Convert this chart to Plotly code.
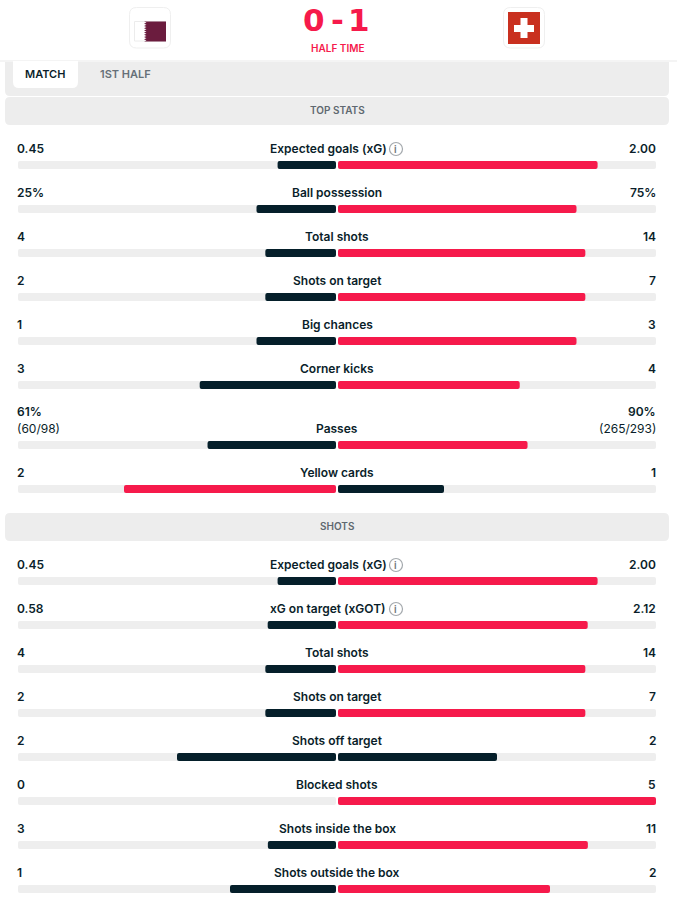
import plotly.graph_objects as go

# Match statistics, one entry per row
stat_names = ["Expected goals (xG)", "Ball possession", "Total shots", "Shots on target",
              "Big chances", "Corner kicks", "Passes", "Yellow cards",
              "Expected goals (xG)", "xG on target (xGOT)", "Total shots", "Shots on target",
              "Shots off target", "Blocked shots", "Shots inside the box", "Shots outside the box"]
home_values = [0.45, 25, 4, 2, 1, 3, 61, 2, 0.45, 0.58, 4, 2, 2, 0, 3, 1]
away_values = [2.00, 75, 14, 7, 3, 4, 90, 1, 2.00, 2.12, 14, 7, 2, 5, 11, 2]
home_labels = ["0.45", "25%", "4", "2", "1", "3", "61%", "2",
               "0.45", "0.58", "4", "2", "2", "0", "3", "1"]
away_labels = ["2.00", "75%", "14", "7", "3", "4", "90%", "1",
               "2.00", "2.12", "14", "7", "2", "5", "11", "2"]
info_rows = ["Expected goals (xG)", "xG on target (xGOT)"]
section_titles = ["TOP STATS", "SHOTS"]
tab_labels = ["MATCH", "1ST HALF"]
score_home = "0"
score_away = "1"
match_status = "HALF TIME"
passes_home_detail = "(60/98)"
passes_away_detail = "(265/293)"

W, H = 677, 903
RED, DARK, TRACK, PANEL = "#F61A4B", "#051F2A", "#EEEEEE", "#EDEDED"
INK, GREY = "#0A1E2A", "#5F6870"
FONT = "Inter"
SCORE_FONT = "DejaVu Sans"

# Row centres, in screen-sized y units
row_y = [165, 209, 253, 297, 341, 385, 445, 489, 581, 625, 669, 713, 757, 801, 845, 889]

SCALE = 318.0  # one full share spans this many pixels
GAP = 1 / SCALE
home_share = [h / (h + a) for h, a in zip(home_values, away_values)]
away_share = [a / (h + a) for h, a in zip(home_values, away_values)]
home_colour = [RED if h > a else DARK for h, a in zip(home_values, away_values)]
away_colour = [RED if a > h else DARK for h, a in zip(home_values, away_values)]

fig = go.Figure()
for side in (-1, 1):
    fig.add_bar(y=row_y, x=[side] * len(row_y), base=side * GAP, orientation="h", width=8,
                marker=dict(color=TRACK, line_width=0), hoverinfo="skip")
fig.add_bar(y=row_y, x=[-s for s in home_share], base=-GAP, orientation="h", width=8,
            marker=dict(color=home_colour, line_width=0), hoverinfo="skip")
fig.add_bar(y=row_y, x=away_share, base=GAP, orientation="h", width=8,
            marker=dict(color=away_colour, line_width=0), hoverinfo="skip")


def rounded(x0, y0, x1, y1, r, top=True, bottom=True):
    tr = r if top else 0
    br = r if bottom else 0
    return (f"M{x0 + tr},{y0} L{x1 - tr},{y0} Q{x1},{y0} {x1},{y0 + tr} "
            f"L{x1},{y1 - br} Q{x1},{y1} {x1 - br},{y1} L{x0 + br},{y1} "
            f"Q{x0},{y1} {x0},{y1 - br} L{x0},{y0 + tr} Q{x0},{y0} {x0 + tr},{y0} Z")


def px_path(d, fill, line=None, layer="below"):
    return dict(type="path", path=d, xref="x", yref="y", fillcolor=fill, layer=layer,
                line=dict(color=line or fill, width=1 if line else 0))


def xd(p):
    return (p - 337) / SCALE


def convert(d):
    # Paths are written in pixels; x is mapped onto the data axis
    out = []
    for t in d.replace("M", " M ").replace("L", " L ").replace("Q", " Q ").replace("Z", " Z ").split():
        if "," in t:
            a, b = t.split(",")
            out.append(f"{xd(float(a)):.5f},{b}")
        else:
            out.append(t)
    return " ".join(out)


def panel(x0, y0, x1, y1, r, fill, line=None, layer="below", **kw):
    return px_path(convert(rounded(x0, y0, x1, y1, r, **kw)), fill, line, layer)


# Serrated hoist edge of the Qatar flag
serration = []
for i in range(9):
    step = 20 / 9
    serration.append(f"L144,{21.5 + i * step:.2f}")
    serration.append(f"L146.5,{21.5 + (i + 0.5) * step:.2f}")
qatar_field = convert("M166,21.5 " + "L144,21.5 " + " ".join(serration) + " L144,41.5 L166,41.5 Z")

shapes = [
    panel(5, 62, 669, 96, 5, PANEL, top=False),
    panel(5, 97, 669, 125, 5, PANEL),
    panel(5, 513, 669, 541, 5, PANEL),
    panel(13, 61, 78, 88, 6, "#FFFFFF", top=False),
    panel(129.5, 7.5, 170.5, 48, 7, "#FFFFFF", "#EFEFEF"),
    panel(503.5, 7.5, 544.5, 48, 7, "#FFFFFF", "#EFEFEF"),
    panel(134.5, 21.5, 165.5, 41, 0, "#FFFFFF", "#ECECEC"),
    px_path(qatar_field, "#6B1C3E"),
    panel(508, 12, 540, 44, 0, "#C9301F"),
    panel(514, 25, 534, 32, 0, "#FFFFFF"),
    panel(520.5, 18, 527.5, 38, 0, "#FFFFFF"),
    dict(type="line", xref="paper", yref="y", x0=0, x1=1, y0=61, y1=61,
         line=dict(color="#E9E9E9", width=1), layer="below"),
]


def note(text, x, y, size=12, colour=INK, weight=600, anchor="center", family=FONT):
    return dict(text=text, x=x / W, y=y - 0.4, xref="paper", yref="y", showarrow=False, xanchor=anchor,
                yanchor="middle", borderpad=0,
                font=dict(family=family, size=size, color=colour, weight=weight))


annotations = []
for name, hl, al, y in zip(stat_names, home_labels, away_labels, row_y):
    text_y = y - 16
    centre = 337
    if name == "Passes":
        annotations.append(note(hl, 15.5, text_y - 17, anchor="left"))
        annotations.append(note(al, 657, text_y - 17, anchor="right"))
        annotations.append(note(passes_home_detail, 15.5, text_y, weight=400, anchor="left"))
        annotations.append(note(passes_away_detail, 657, text_y, anchor="right", weight=400))
    else:
        annotations.append(note(hl, 15.5, text_y, anchor="left"))
        annotations.append(note(al, 657, text_y, anchor="right"))
    if name in info_rows:
        centre = 328
        icon_x = 396
        shapes.append(dict(type="circle", xref="x", yref="y", x0=xd(icon_x - 6.5), x1=xd(icon_x + 6.5),
                           y0=text_y - 6.5, y1=text_y + 6.5, line=dict(color="#A4A9AD", width=1.2)))
        annotations.append(note("i", icon_x, text_y + 0.4, size=10, colour="#6F767B", weight=600))
    annotations.append(note(name, centre, text_y))

for title, y in zip(section_titles, [110.5, 526.5]):
    annotations.append(note(title, 337, y, size=10, colour=GREY))
annotations.append(note(tab_labels[0], 45, 74, size=11, colour=INK))
annotations.append(note(tab_labels[1], 125.5, 74, size=11, colour="#667078"))
annotations.append(note(match_status, 337.5, 48.5, size=10, colour=RED))
annotations.append(note(score_home, 313.5, 20, size=31, colour=RED, weight=700, family=SCORE_FONT))
annotations.append(note("-", 337, 20, size=31, colour=RED, weight=700, family=SCORE_FONT))
annotations.append(note(score_away, 359.5, 20, size=31, colour=RED, weight=700, family=SCORE_FONT))

fig.update_layout(
    width=W, height=H, margin=dict(l=0, r=0, t=0, b=0),
    paper_bgcolor="#FFFFFF", plot_bgcolor="#FFFFFF", showlegend=False,
    barmode="overlay", barcornerradius=2, shapes=shapes, annotations=annotations,
    xaxis=dict(range=[xd(0), xd(W)], visible=False, fixedrange=True),
    yaxis=dict(range=[H, 0], visible=False, fixedrange=True),
)
fig.write_html("out.html", config=dict(displayModeBar=False))
